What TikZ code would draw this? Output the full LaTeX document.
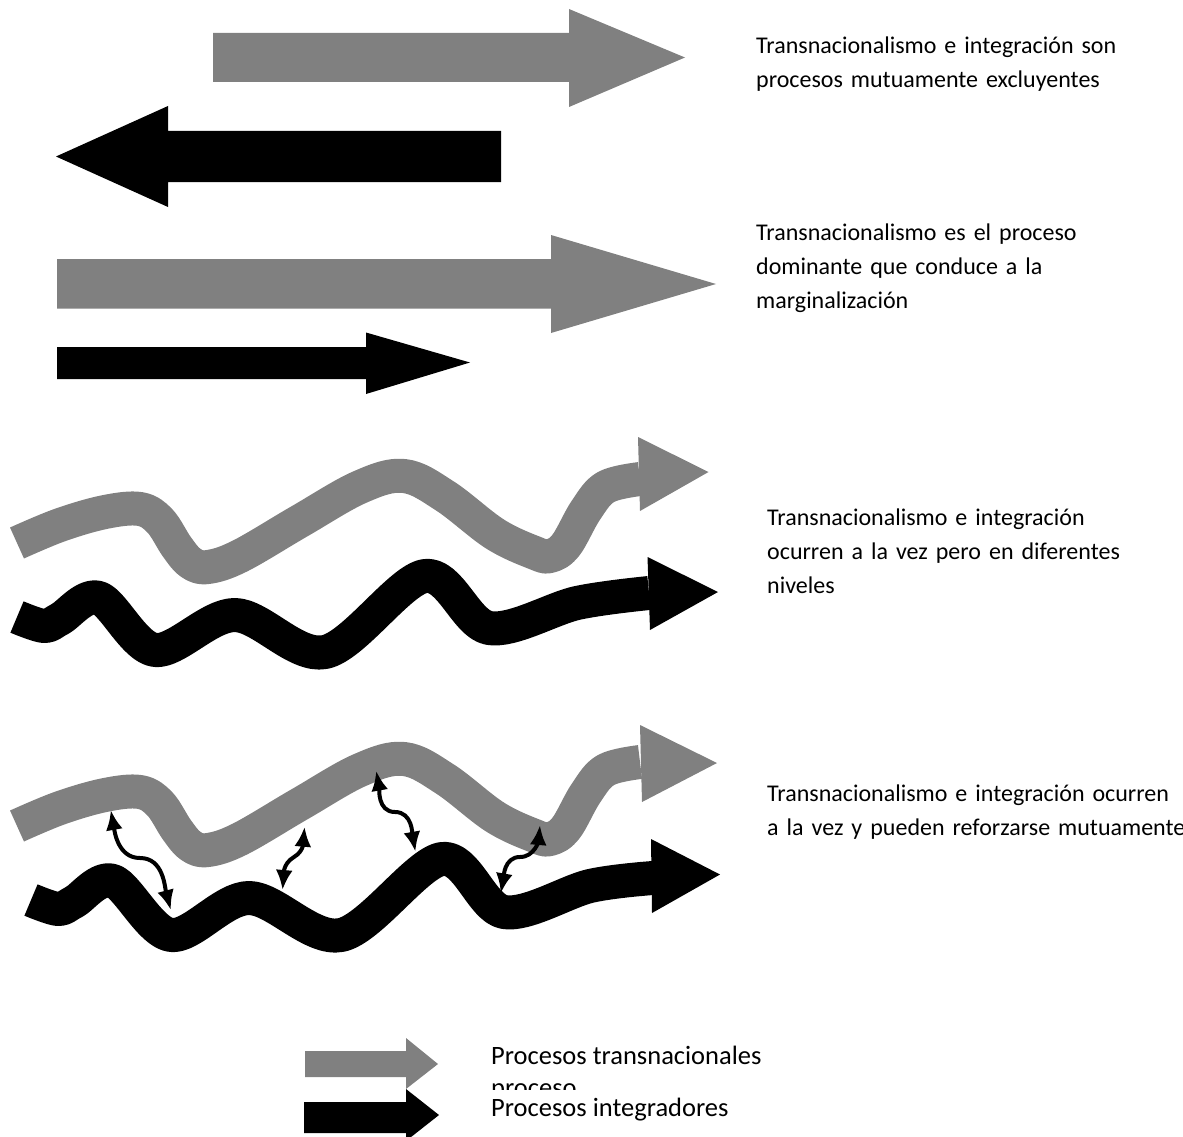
\documentclass[tikz,border=0pt]{standalone}
\usepackage{fontspec}
\setmainfont{Carlito}
\usetikzlibrary{arrows.meta,positioning}
\definecolor{grisT}{HTML}{808080}

\tikzset{
  transproc/.style={fill=grisT},
  integproc/.style={fill=black},
  transband/.style={draw=grisT, line width=34pt, line join=round},
  integband/.style={draw=black, line width=34pt, line join=round},
  refuerzo/.style={line width=4pt, {Latex[length=20pt,width=17pt]}-{Latex[length=20pt,width=17pt]}},
  leyenda/.style={anchor=base west, inner sep=0pt, text width=430pt, align=left,
                  font=\fontsize{24}{34.2}\selectfont},
  leyendab/.style={anchor=base west, inner sep=0pt, font=\fontsize{26.5}{30}\selectfont}
}

\begin{document}
\begin{tikzpicture}[x=1pt, y=-1pt]
\useasboundingbox (0,0) rectangle (1183,1137);
%\draw[step=100,gray,very thin] (0,0) grid (1183,1137);
% mutually exclusive
\fill[transproc] (213,33) -- (569,33) -- (569,9) -- (685,57.5) -- (569,107) -- (569,82) -- (213,82) -- cycle;
\fill[integproc] (501,131) -- (168,131) -- (168,106) -- (56,156.5) -- (168,207) -- (168,182) -- (501,182) -- cycle;
\node[leyenda] (excl) at (756,53.3) {Transnacionalismo e integración son\\procesos mutuamente excluyentes};
% dominant
\fill[transproc] (57,259) -- (551,259) -- (551,235) -- (716,284) -- (551,333) -- (551,308.5) -- (57,308.5) -- cycle;
\fill[integproc] (57,347) -- (366,347) -- (366,332.5) -- (470,362.5) -- (366,394) -- (366,379) -- (57,379) -- cycle;
\node[leyenda] (domin) at (756,240) {Transnacionalismo es el proceso\\dominante que conduce a la\\marginalización};
% different levels
\draw[transband] plot[smooth, tension=0.6] coordinates {(17,543) (60,525) (105,512) (140,509) (160,521) (177,547) (191,563) (208,567) (240,556) (300,521) (360,487) (404,476) (445,496) (495,534) (535,553) (550,556) (566,545) (586,510) (606,487) (640,479)};
\fill[transproc] (638,437) -- (708.5,472) -- (640,511) -- cycle;
\draw[integband] plot[smooth, tension=0.55] coordinates {(17,617) (44,626) (60,619) (99,598) (155,650) (235,615) (325,652) (425,576) (489,628) (577,603) (649,593)};
\fill[integproc] (647.5,557) -- (718,592) -- (650,630) -- cycle;
\node[leyenda] (nivel) at (767,525) {Transnacionalismo e integración\\ocurren a la vez pero en diferentes\\niveles};
% reinforce
\draw[transband] plot[smooth, tension=0.6] coordinates {(17,826) (60,808) (105,795) (140,792) (160,804) (177,830) (191,846) (208,850) (240,839) (300,804) (360,770) (404,759) (445,779) (495,817) (535,836) (550,839) (566,828) (586,793) (606,770) (640,762)};
\fill[transproc] (640,725) -- (717,763) -- (642,802) -- cycle;
\draw[integband] plot[smooth, tension=0.55] coordinates {(31,900) (58,909) (74,902) (113,881) (171,935) (249,898) (341,935) (442,859) (504,912) (590,886) (653,878)};
\fill[integproc] (651,839) -- (720,874.5) -- (652,913) -- cycle;
\coordinate (r1a) at (110.8,810);   \coordinate (r1b) at (170.8,910);
\coordinate (r2a) at (304.6,826.7); \coordinate (r2b) at (282.5,890);
\coordinate (r3a) at (376.2,770.7); \coordinate (r3b) at (415.4,851.7);
\coordinate (r4a) at (540,825);     \coordinate (r4b) at (500.8,893.3);
\draw[refuerzo] (r1a) to[out=-80,in=180] (140,858) to[out=0,in=105] (r1b);
\draw[refuerzo] (r2a) to[out=-95,in=30] (294,857) to[out=-150,in=85] (r2b);
\draw[refuerzo] (r3a) to[out=-80,in=180] (395,812) to[out=0,in=100] (r3b);
\draw[refuerzo] (r4a) to[out=-95,in=0] (520,857) to[out=180,in=80] (r4b);
\node[leyenda] (refz) at (767,801.7) {Transnacionalismo e integración ocurren\\a la vez y pueden reforzarse mutuamente};
% legend
\fill[transproc] (305,1051) -- (406,1051) -- (406,1038) -- (438,1064) -- (406,1089) -- (406,1077) -- (305,1077) -- cycle;
\fill[integproc] (304,1102) -- (406,1102) -- (406,1089) -- (439,1115) -- (406,1141) -- (406,1133) -- (304,1133) -- cycle;
\node[leyendab] (ltrans) at (491,1064) {Procesos transnacionales};
\begin{scope}
  \clip (480,1075) rectangle (600,1089);
  \node[leyendab] (lcorte) at (491,1096) {proceso};
\end{scope}
\node[leyendab] (linteg) at (491,1116.7) {Procesos integradores};
\end{tikzpicture}
\end{document}
